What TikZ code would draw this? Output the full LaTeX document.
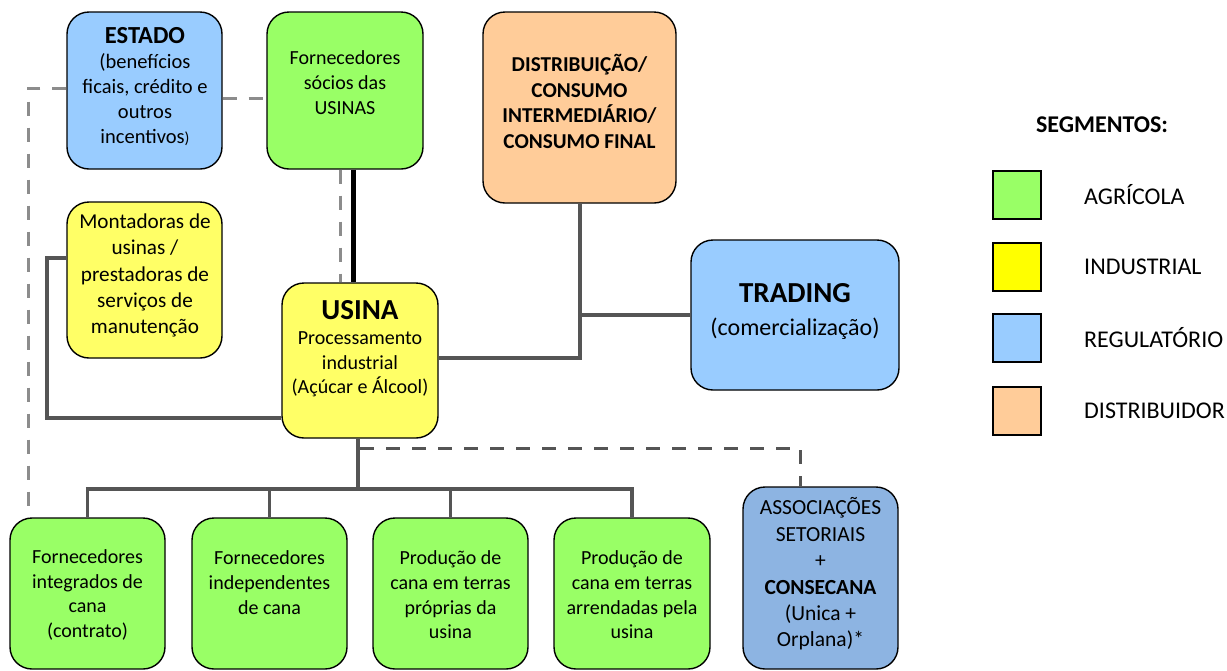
\documentclass[tikz,border=0pt]{standalone}
\usepackage{fontspec}
\setmainfont{Carlito}
\definecolor{cgreen}{HTML}{99FF66}
\definecolor{cyellow}{HTML}{FFFF66}
\definecolor{cblue}{HTML}{99CCFF}
\definecolor{corange}{HTML}{FFCC99}
\definecolor{cassoc}{HTML}{8DB4E2}
\definecolor{lyellow}{HTML}{FFFF00}
\definecolor{darkline}{HTML}{555555}
\definecolor{lightline}{HTML}{8C8C8C}
\tikzset{
  box/.style={draw, line width=1.4pt, rounded corners=22pt, rectangle, inner sep=0pt},
  txt/.style={align=center, inner sep=0pt, font=\fontsize{20}{24.7}\selectfont},
  conn/.style={draw=darkline, line width=3.5pt},
  thickconn/.style={draw=black, line width=5pt},
  dashL/.style={draw=lightline, line width=3pt, dash pattern=on 14pt off 12pt},
  dashD/.style={draw=darkline, line width=3pt, dash pattern=on 14pt off 12pt},
  legbox/.style={draw, line width=1.6pt, minimum width=48pt, minimum height=48pt, inner sep=0pt},
  legtxt/.style={anchor=west, inner sep=0pt, font=\fontsize{24}{28}\selectfont},
}
\begin{document}
\begin{tikzpicture}[x=1pt,y=-1pt]
\useasboundingbox (0,0) rectangle (1227,670);

\node[box, fill=cblue, minimum width=155pt, minimum height=157pt] (estado) at (144.5,90.5) {};
\node[box, fill=cgreen, minimum width=156pt, minimum height=157pt] (fsocios) at (345,90.5) {};
\node[box, fill=corange, minimum width=193pt, minimum height=191pt] (dist) at (579.5,107.5) {};
\node[box, fill=cblue, minimum width=208pt, minimum height=150pt] (trading) at (795,315) {};
\node[box, fill=cyellow, minimum width=155pt, minimum height=156pt] (mont) at (144.5,280) {};
\node[box, fill=cyellow, minimum width=156pt, minimum height=155pt] (usina) at (360,360.5) {};
\node[box, fill=cgreen, minimum width=155pt, minimum height=151pt] (b1) at (87.5,593.5) {};
\node[box, fill=cgreen, minimum width=155pt, minimum height=151pt] (b2) at (269.5,593.5) {};
\node[box, fill=cgreen, minimum width=155pt, minimum height=151pt] (b3) at (450.5,593.5) {};
\node[box, fill=cgreen, minimum width=156pt, minimum height=151pt] (b4) at (632,593.5) {};
\node[box, fill=cassoc, minimum width=155pt, minimum height=182pt] (assoc) at (820.5,578) {};

% coordinates for connector corners
\coordinate (d1) at (28,88);
\coordinate (m1) at (47,258);
\coordinate (m2) at (47,418);
\coordinate (u1) at (580,358);
\coordinate (t1) at (580,315);
\coordinate (bus) at (358,489);
\coordinate (a1) at (800,448);

% connectors
\draw[dashL] ([yshift=-7.5pt]estado.east) -- ([yshift=-7.5pt]fsocios.west);
\draw[dashL] (estado.west |- d1) -- (d1) -- (d1 |- b1.north);
\draw[dashL] ([xshift=-5pt]fsocios.south) -- ([xshift=-5pt]fsocios.south |- usina.north);
\draw[thickconn] ([xshift=8pt]fsocios.south) -- ([xshift=8pt]fsocios.south |- usina.north);
\draw[conn] (mont.west |- m1) -- (m1) -- (m2) -- (m2 -| usina.west);
\draw[conn] (usina.east |- u1) -- (u1) -- (u1 |- dist.south);
\draw[conn] (t1) -- (t1 -| trading.west);
\draw[conn] (usina.south -| bus) -- (bus);
\draw[conn] ([xshift=-1.75pt]b1.north |- bus) -- ([xshift=1.75pt]b4.north |- bus);
\foreach \b in {b1,b2,b3,b4} \draw[conn] (\b.north |- bus) -- (\b.north);
\draw[dashD] ([xshift=2pt]bus |- a1) -- (a1) -- (a1 |- assoc.north);

% texts
\node[txt, font=\fontsize{20.5}{25}\selectfont] (testado) at (145,87) {{\fontsize{24.5}{25}\selectfont\bfseries ESTADO}\\(benefícios\\ficais, crédito e\\outros\\incentivos{\fontsize{16}{16}\selectfont)}};
\node[txt] (tfsocios) at (345,82.5) {Fornecedores\\sócios das\\USINAS};
\node[txt, font=\fontsize{21.2}{25.6}\selectfont\bfseries] (tdist) at (579.5,101.5) {DISTRIBUIÇÃO/\\CONSUMO\\INTERMEDIÁRIO/\\CONSUMO FINAL};
\node[txt, font=\fontsize{24}{33}\selectfont] (ttrading) at (795,311.5) {{\fontsize{29}{33}\selectfont\bfseries TRADING}\\(comercialização)};
\node[txt, font=\fontsize{21.2}{26.2}\selectfont] (tmont) at (145,275.5) {Montadoras de\\usinas /\\prestadoras de\\serviços de\\manutenção};
\node[txt] (tusina) at (360,349) {{\fontsize{29}{30}\selectfont\bfseries USINA}\\Processamento\\industrial\\(Açúcar e Álcool)};
\node[txt] (tb1) at (87.5,595) {Fornecedores\\integrados de\\cana\\(contrato)};
\node[txt] (tb2) at (269.5,582.5) {Fornecedores\\independentes\\de cana};
\node[txt] (tb3) at (450.5,595) {Produção de\\cana em terras\\próprias da\\usina};
\node[txt] (tb4) at (632,595) {Produção de\\cana em terras\\arrendadas pela\\usina};
\node[txt, font=\fontsize{21.5}{26.4}\selectfont] (tassoc) at (820.5,574) {ASSOCIAÇÕES\\SETORIAIS\\+\\\textbf{CONSECANA}\\(Unica +\\Orplana)*};

% legend
\node[inner sep=0pt, font=\fontsize{24}{28}\selectfont\bfseries] (seg) at (1102,125) {SEGMENTOS:};
\node[legbox, fill=cgreen] (lg1) at (1017,195) {};
\node[legbox, fill=lyellow] (lg2) at (1017,267) {};
\node[legbox, fill=cblue] (lg3) at (1017,338) {};
\node[legbox, fill=corange] (lg4) at (1017,411) {};
\node[legtxt] (lt1) at (1084,195) {AGRÍCOLA};
\node[legtxt] (lt2) at (1084,267) {INDUSTRIAL};
\node[legtxt] (lt3) at (1084,338) {REGULATÓRIO};
\node[legtxt] (lt4) at (1084,411) {DISTRIBUIDOR};
\end{tikzpicture}
\end{document}
